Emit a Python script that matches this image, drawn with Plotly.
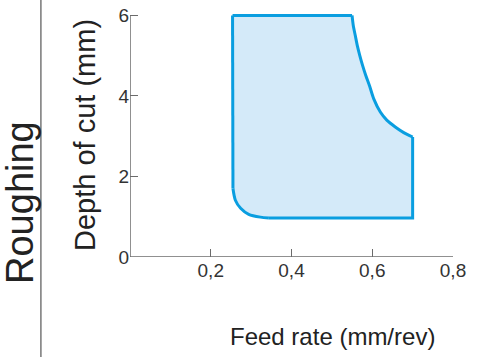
import plotly.graph_objects as go

# Boundary of the recommended operating region
feed_rate = [0.254,
             0.550, 0.553, 0.558, 0.563, 0.569, 0.576, 0.584, 0.593, 0.604, 0.620,
             0.636, 0.657, 0.678, 0.700,
             0.700, 0.344, 0.323, 0.294, 0.274, 0.261, 0.255, 0.254]
depth_of_cut = [6.00,
                6.00, 5.75, 5.50, 5.25, 5.01, 4.76, 4.51, 4.26, 3.92, 3.60,
                3.40, 3.23, 3.09, 2.98,
                0.97, 0.97, 0.99, 1.06, 1.21, 1.41, 1.70, 6.00]
# index ranges of the curved / straight stretches of the boundary
right_curve = (1, 15)   # top-right corner down to right edge
left_curve = (16, 22)   # bottom-left rounded corner
straight_parts = [(0, 2), (14, 17), (21, 23)]

x_ticks = [0.2, 0.4, 0.6, 0.8]
x_tick_text = ["0,2", "0,4", "0,6", "0,8"]
y_ticks = [0, 2, 4, 6]
y_tick_text = ["0", "2", "4", "6"]

x_range = [0, 0.8]
y_range = [0, 6.06]

LINE = "#0a9ee0"
FILL = "#d4eaf9"
AXIS = "#6b6b6b"
TEXT = "#333333"
FONT = "Liberation Sans, Arial, sans-serif"

fig = go.Figure()
# filled region
fig.add_trace(go.Scatter(
    x=feed_rate, y=depth_of_cut, mode="lines", fill="toself",
    fillcolor=FILL, line=dict(color=FILL, width=0), hoverinfo="skip",
    showlegend=False,
))
# outline: straight parts
for a, b in straight_parts:
    fig.add_trace(go.Scatter(
        x=feed_rate[a:b], y=depth_of_cut[a:b], mode="lines",
        line=dict(color=LINE, width=3), hoverinfo="skip", showlegend=False))
# outline: curved parts
for a, b in (right_curve, left_curve):
    fig.add_trace(go.Scatter(
        x=feed_rate[a:b], y=depth_of_cut[a:b], mode="lines",
        line=dict(color=LINE, width=3, shape="spline", smoothing=0.8),
        hoverinfo="skip", showlegend=False))

# axis lines
fig.add_shape(type="line", x0=x_range[0], x1=x_ticks[-1], y0=0, y1=0,
              xref="x", yref="y", line=dict(color=AXIS, width=1.5), layer="above")
fig.add_shape(type="line", x0=0, x1=0, y0=y_ticks[0], y1=y_ticks[-1],
              xref="x", yref="y", line=dict(color=AXIS, width=1.5), layer="above")
# separator line
fig.add_shape(type="line", x0=-0.2758, x1=-0.2758, y0=-0.42, y1=1.06,
              xref="paper", yref="paper", line=dict(color="#555555", width=1.2))

fig.add_annotation(text="Roughing", xref="paper", yref="paper",
                   x=-0.341, y=0.225, textangle=-90, showarrow=False,
                   font=dict(family=FONT, size=38, color="#222222"),
                   xanchor="center", yanchor="middle")
fig.add_annotation(text="Feed rate (mm/rev)", xref="paper", yref="paper",
                   x=0.626, y=-0.327, showarrow=False,
                   font=dict(family=FONT, size=24, color="#222222"),
                   xanchor="center", yanchor="middle")

fig.update_xaxes(range=x_range, tickvals=x_ticks, ticktext=x_tick_text,
                 ticks="inside", ticklen=8, tickwidth=1.2, tickcolor=AXIS,
                 showline=False, showgrid=False, zeroline=False, automargin=False,
                 ticklabeloverflow="allow",
                 tickfont=dict(family=FONT, size=19, color=TEXT))
fig.update_yaxes(range=y_range, tickvals=y_ticks, ticktext=y_tick_text,
                 ticks="inside", ticklen=8, tickwidth=1.2, tickcolor=AXIS,
                 showline=False, showgrid=False, zeroline=False, automargin=False,
                 ticklabeloverflow="allow",
                 tickfont=dict(family=FONT, size=19, color=TEXT),
                 title=dict(text="Depth of cut (mm)", standoff=14,
                            font=dict(family=FONT, size=29, color="#222222")))

fig.update_layout(
    width=478, height=357,
    margin=dict(l=130, r=25.3, t=12.6, b=100, autoexpand=False),
    paper_bgcolor="white", plot_bgcolor="white",
    font=dict(family=FONT),
)

# remove the browser's default 8px body margin so the figure fills the window
fig.write_html("out.html", config={"displayModeBar": False},
               post_script="document.body.style.margin='0';")
